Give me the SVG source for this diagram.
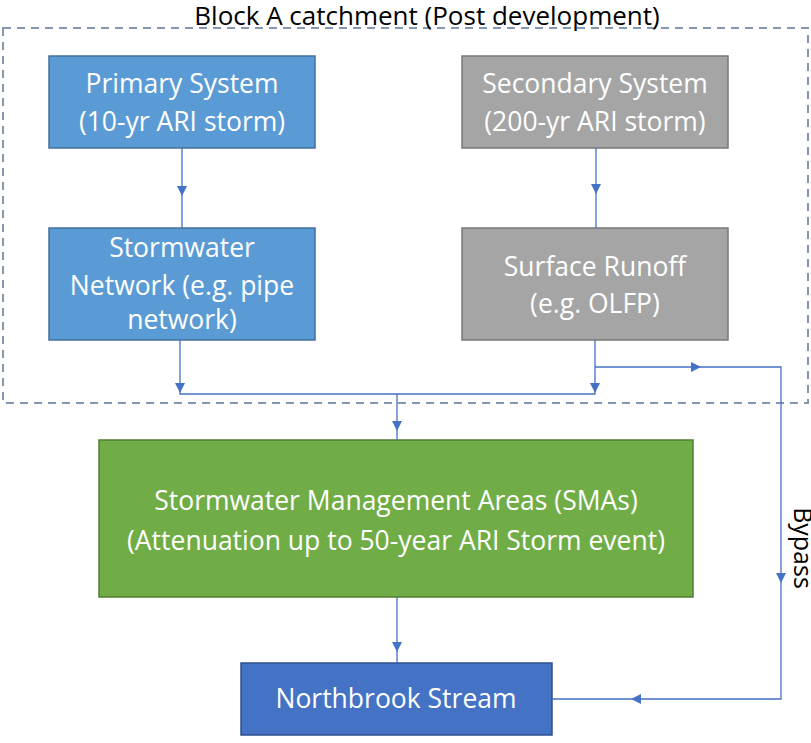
<svg xmlns="http://www.w3.org/2000/svg" width="811" height="743" viewBox="0 0 811 743">
<defs>
<style>
.box{stroke-width:1.5}
.t{font-family:"Open Sans","Liberation Sans",sans-serif;font-size:26.5px;fill:#fff;text-anchor:middle}
.title{font-family:"Open Sans","Liberation Sans",sans-serif;font-size:26px;fill:#000;text-anchor:middle}
.c{fill:none;stroke:#4472c4;stroke-width:1.3}
.ah{fill:#4472c4}
</style>
</defs>
<rect x="3" y="28" width="805" height="375" fill="none" stroke="#8497b0" stroke-width="2" stroke-dasharray="8,6"/>
<text class="title" x="427" y="25">Block A catchment (Post development)</text>
<g id="primary">
<rect class="box" x="49" y="56" width="266" height="92" fill="#5b9bd5" stroke="#41719c"/>
<text class="t" x="182" y="93">Primary System</text>
<text class="t" x="182" y="131">(10-yr ARI storm)</text>
</g>
<g id="secondary">
<rect class="box" x="462" y="56" width="266" height="92" fill="#a5a5a5" stroke="#787878"/>
<text class="t" x="595" y="93">Secondary System</text>
<text class="t" x="595" y="131">(200-yr ARI storm)</text>
</g>
<g id="network">
<rect class="box" x="49" y="228" width="266" height="112" fill="#5b9bd5" stroke="#41719c"/>
<text class="t" x="182" y="257">Stormwater</text>
<text class="t" x="182" y="295">Network (e.g. pipe</text>
<text class="t" x="182" y="329">network)</text>
</g>
<g id="runoff">
<rect class="box" x="462" y="228" width="266" height="112" fill="#a5a5a5" stroke="#787878"/>
<text class="t" x="595" y="276">Surface Runoff</text>
<text class="t" x="595" y="313">(e.g. OLFP)</text>
</g>
<g id="sma">
<rect class="box" x="99" y="440" width="594" height="157" fill="#70ad47" stroke="#507e32"/>
<text class="t" x="396" y="510">Stormwater Management Areas (SMAs)</text>
<text class="t" x="396" y="550">(Attenuation up to 50-year ARI Storm event)</text>
</g>
<g id="northbrook">
<rect class="box" x="241" y="663" width="311" height="72" fill="#4472c4" stroke="#2f528f"/>
<text class="t" x="396" y="708">Northbrook Stream</text>
</g>
<g id="connectors">
<path class="c" d="M182 148V228"/>
<path class="ah" d="M177 186h10l-5 10z"/>
<path class="c" d="M596 148V228"/>
<path class="ah" d="M591 184h10l-5 10z"/>
<path class="c" d="M180 340V394H595V340"/>
<path class="ah" d="M175 383h10l-5 10z"/>
<path class="ah" d="M590 383h10l-5 10z"/>
<path class="c" d="M397 394V440"/>
<path class="ah" d="M392 421h10l-5 10z"/>
<path class="c" d="M595 367H781V699H552"/>
<path class="ah" d="M691 362v10l10-5z"/>
<path class="ah" d="M776 573h10l-5 10z"/>
<path class="ah" d="M641 694v10l-10-5z"/>
<path class="c" d="M397 597V663"/>
<path class="ah" d="M392 642h10l-5 10z"/>
<text x="794" y="548" transform="rotate(90 794 548)" font-family="Open Sans, Liberation Sans, sans-serif" font-size="25" fill="#000" text-anchor="middle">Bypass</text>
</g>
</svg>
